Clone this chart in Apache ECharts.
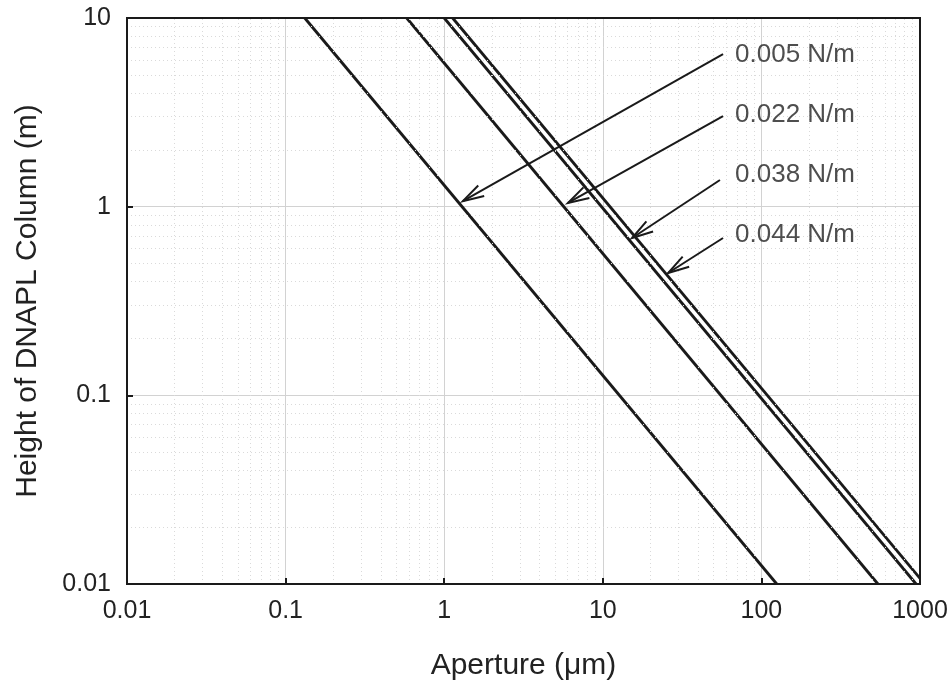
<!DOCTYPE html>
<html>
<head>
<meta charset="utf-8">
<script src="https://cdn.jsdelivr.net/npm/echarts@6/dist/echarts.min.js"></script>
<style>
html,body{margin:0;padding:0;background:#fff;}
#chart{width:952px;height:684px;}
</style>
</head>
<body>
<div id="chart"></div>
<script>
// ---- data ----
const seriesNames = ['0.005 N/m', '0.022 N/m', '0.038 N/m', '0.044 N/m'];
// each line: [aperture (µm), height (m)] end points
const line005 = [[0.132, 10], [125, 0.01]];
const line022 = [[0.58, 10], [543, 0.01]];
const line038 = [[1.0, 10], [945, 0.01]];
const line044 = [[1.13, 10], [1000, 0.0107]];
// annotation arrows: start (near label) and tip (on line)
const arrowStarts = [[57.3, 6.44], [57.3, 3.02], [54.8, 1.385], [57.3, 0.682]];
const arrowTips = [[1.31, 1.07], [6.03, 1.046], [15.3, 0.682], [25.8, 0.445]];
// label anchor points (left edge of text)
const labelPos = [[68.2, 6.37], [68.2, 3.06], [68.2, 1.47], [68.2, 0.708]];
// axis tick labels
const xTickLabels = ['0.01', '0.1', '1', '10', '100', '1000'];
const yTickLabels = ['0.01', '0.1', '1', '10'];
const xTitle = 'Aperture (μm)';
const yTitle = 'Height of DNAPL Column (m)';

// minor grid positions (2..9 within each decade)
const minorX = [];
for (let d = -2; d < 3; d++) for (let k = 2; k <= 9; k++) minorX.push(+(k * Math.pow(10, d)).toPrecision(3));
const minorY = [];
for (let d = -2; d < 1; d++) for (let k = 2; k <= 9; k++) minorY.push(+(k * Math.pow(10, d)).toPrecision(3));

const FONT = "'Liberation Sans', Arial, Helvetica, sans-serif";
const INK = '#1a1a1a';

const chart = echarts.init(document.getElementById('chart'), null, {renderer: 'canvas'});

const lineData = [line005, line022, line038, line044];
const lineSeries = lineData.map((d, i) => ({
  name: seriesNames[i],
  type: 'line',
  data: d,
  symbol: 'none',
  silent: true,
  z: 4,
  lineStyle: {color: INK, width: 2.8},
  animation: false
}));

const arrowData = arrowStarts.map((s, i) => [s[0], s[1], arrowTips[i][0], arrowTips[i][1]]);

function renderArrow(params, api) {
  const s = api.coord([api.value(0), api.value(1)]);
  const t = api.coord([api.value(2), api.value(3)]);
  const a = Math.atan2(s[1] - t[1], s[0] - t[0]);
  const L = 22, h = 16 * Math.PI / 180;
  const b1 = [t[0] + L * Math.cos(a + h), t[1] + L * Math.sin(a + h)];
  const b2 = [t[0] + L * Math.cos(a - h), t[1] + L * Math.sin(a - h)];
  const style = {stroke: INK, lineWidth: 2, fill: null};
  return {
    type: 'group',
    children: [
      {type: 'line', shape: {x1: s[0], y1: s[1], x2: t[0], y2: t[1]}, style: style},
      {type: 'polyline', shape: {points: [b1, t, b2]}, style: style}
    ]
  };
}

const option = {
  animation: false,
  backgroundColor: '#fff',
  grid: {left: 127, right: 32, top: 18, bottom: 100, show: true, borderColor: INK, borderWidth: 2,
    backgroundColor: 'transparent', z: 10, containLabel: false, outerBoundsMode: 'none'},
  xAxis: {
    type: 'log', logBase: 10, min: 0.01, max: 1000,
    name: xTitle, nameLocation: 'middle', nameGap: 67,
    nameTextStyle: {fontFamily: FONT, fontSize: 30, color: '#222'},
    axisLine: {show: true, lineStyle: {color: INK, width: 2}},
    axisTick: {show: true, inside: true, length: 6, lineStyle: {color: INK, width: 2}},
    axisLabel: {fontFamily: FONT, fontSize: 25, color: '#222', margin: 15,
      formatter: v => xTickLabels[Math.round(Math.log10(v)) + 2]},
    splitLine: {show: true, lineStyle: {color: '#d2d2d2', width: 1}},
    minorTick: {show: false}, minorSplitLine: {show: false}
  },
  yAxis: {
    type: 'log', logBase: 10, min: 0.01, max: 10,
    name: yTitle, nameLocation: 'middle', nameGap: 84,
    nameTextStyle: {fontFamily: FONT, fontSize: 30, color: '#222'},
    axisLine: {show: true, lineStyle: {color: INK, width: 2}},
    axisTick: {show: true, inside: true, length: 6, lineStyle: {color: INK, width: 2}},
    axisLabel: {fontFamily: FONT, fontSize: 25, color: '#222', margin: 16,
      formatter: v => yTickLabels[Math.round(Math.log10(v)) + 2]},
    splitLine: {show: true, lineStyle: {color: '#d2d2d2', width: 1}},
    minorTick: {show: false}, minorSplitLine: {show: false}
  },
  series: [
    {
      name: 'minor-grid',
      type: 'line',
      data: [[0.01, 0.01]],
      symbol: 'none',
      silent: true,
      z: 1,
      lineStyle: {opacity: 0},
      markLine: {
        silent: true,
        symbol: 'none',
        label: {show: false},
        animation: false,
        lineStyle: {color: '#dadada', width: 1, type: [1, 3]},
        data: minorX.map(v => ({xAxis: v})).concat(minorY.map(v => ({yAxis: v})))
      }
    },
    ...lineSeries,
    {
      name: 'arrows',
      type: 'custom',
      data: arrowData,
      encode: {x: [0, 2], y: [1, 3]},
      renderItem: renderArrow,
      silent: true,
      clip: false,
      z: 5
    },
    {
      name: 'labels',
      type: 'scatter',
      data: labelPos.map((p, i) => ({value: p, name: seriesNames[i]})),
      symbolSize: 0,
      silent: true,
      z: 6,
      label: {
        show: true, position: 'right', distance: 0,
        formatter: p => p.name,
        fontFamily: FONT, fontSize: 26, color: '#222'
      }
    }
  ]
};
chart.setOption(option);
</script>
</body>
</html>
